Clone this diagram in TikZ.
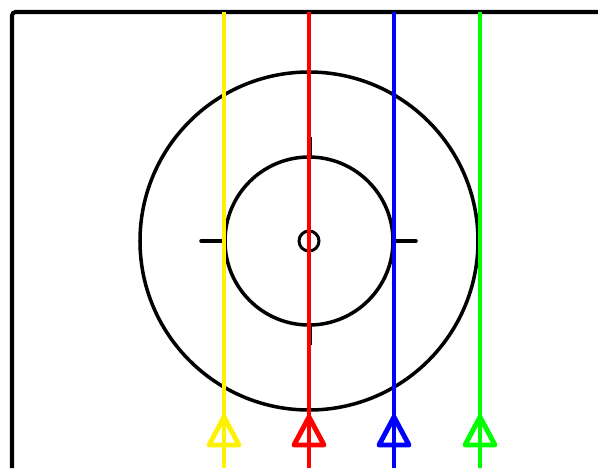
\documentclass[tikz,border=0pt]{standalone}
\usepackage{tikz}
\usetikzlibrary{calc}

\begin{document}
\begin{tikzpicture}[x=0.02cm,y=-0.02cm]
    \useasboundingbox (0,0) rectangle (598,468);

    % Bingkai (hanya sisi kiri dan atas yang terlihat)
    \draw[line width=2.3pt,rounded corners=2pt] (12,468)--(12,12)--(598,12);

    % Titik pusat lingkaran
    \coordinate (pusat) at (309,241);

    % Lingkaran luar, lingkaran dalam dan lingkaran kecil di pusat
    \draw[line width=2pt] (pusat) circle (169);
    \draw[line width=2pt] (pusat) circle (84);
    \draw[line width=1.7pt] (pusat) circle (10);

    % Tanda kecil pada lingkaran dalam
    \draw[line width=2pt,line cap=round] (201,241)--(225,241);
    \draw[line width=2pt,line cap=round] (393,241)--(416,241);
    \draw[line width=1pt] (311.3,137)--(311.3,157);
    \draw[line width=1pt] (311.3,325)--(311.3,345);

    % Garis berwarna dengan segitiga di bagian bawah
    \foreach \x/\warna in {224/yellow,309/red,394/blue,480/green}{
        \draw[line width=2pt,\warna] (\x,12)--(\x,468);
        \draw[line width=2.8pt,\warna,line join=round] (\x,417)--(\x-15,445)--(\x+15,445)--cycle;
    }

\end{tikzpicture}
\end{document}
